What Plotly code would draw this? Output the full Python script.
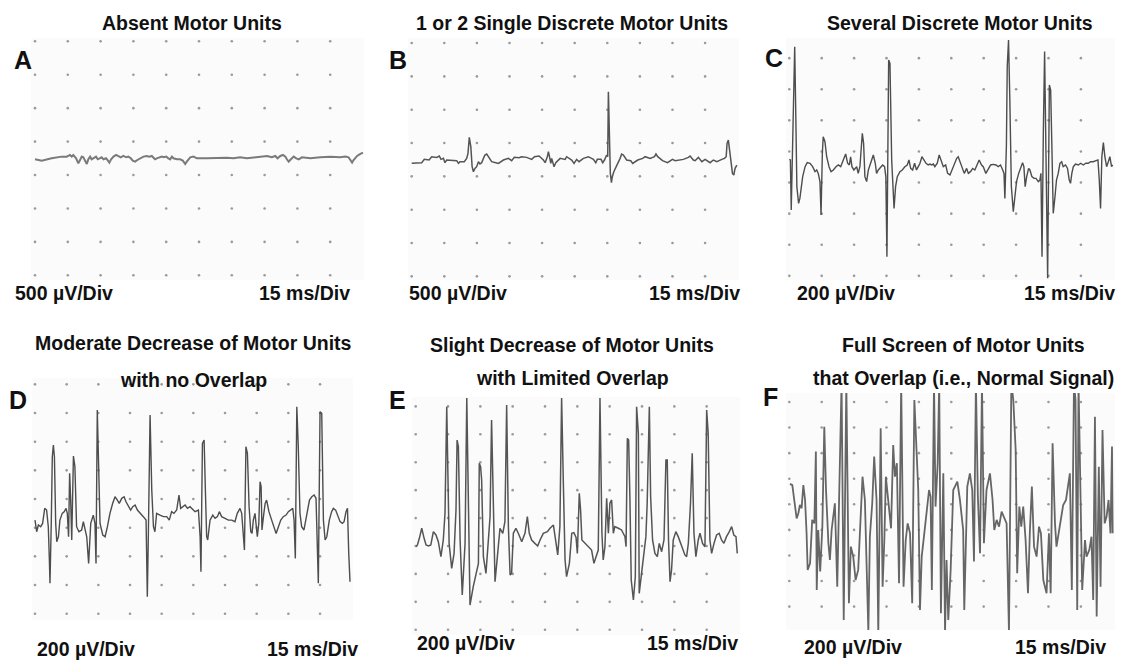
import plotly.graph_objects as go

# ---------------- DATA (time in ms, amplitude in µV) ----------------
a_t = [0, 3.1, 7.6, 12.2, 14.5, 16.0, 16.8, 17.5, 18.8, 19.8, 20.6, 21.4, 22.1, 22.9, 23.7, 24.4, 25.2, 25.9, 27.9, 28.7,
       30.5, 31.3, 32.5, 33.1, 34.0, 34.8, 35.9, 37.1, 38.2, 39.2, 40.4, 41.7, 42.7, 43.8, 44.7, 45.8, 46.8, 48.1, 49.6, 51.1,
       52.3, 53.4, 54.2, 54.9, 55.7, 56.9, 58.0, 58.8, 60.0, 61.0, 61.8, 62.6, 63.3, 64.9, 66.4, 67.6, 68.7, 69.4, 70.2, 71.0,
       72.5, 74.0, 78.6, 81.6, 87.7, 90.8, 93.8, 96.9, 100.0, 103.0, 106.1, 108.3, 109.9, 110.9, 112.2, 113.4, 114.5, 115.2,
       116.0, 116.7, 117.5, 118.3, 119.5, 120.6, 122.1, 125.9, 130.5, 135.1, 139.6, 141.9, 143.4, 144.2, 145.0, 145.7, 146.5,
       147.3, 148.8, 150.0]
a_v = [-15, -35, 0, 25, 25, 50, 25, 50, 0, -75, -25, 25, 15, -25, -85, -15, 25, -15, 25, -15,
       15, -15, 0, -25, -65, -15, 25, 50, 25, 15, 35, 15, 25, 0, -35, -50, -25, 0, 25, 35,
       25, 35, 15, -15, 0, 15, 25, 15, 25, 0, -15, 25, 0, -15, -15, -35, -85, -50, -15, 15,
       25, 0, 0, 5, 10, 0, 15, 0, 15, 25, 35, 15, 35, 0, 35, 50, 25, -15,
       -50, -25, 0, 25, 0, -15, 15, 0, 15, 25, 15, 25, 15, -25, -65, -25, 15,
       35, 65, 85]

b_t = [0, 2.3, 4.6, 5.8, 8.0, 9.2, 11.5, 12.7, 13.5, 14.6, 15.3, 16.1, 18.4, 20.7, 21.5, 22.2, 24.2, 25.3, 25.9, 26.5,
       27.2, 27.8, 28.4, 29.1, 29.9, 30.7, 31.4, 32.2, 33.0, 33.7, 34.5, 35.3, 36.8, 38.7, 39.9, 42.2, 44.5, 46.0, 47.2, 49.4,
       50.6, 52.9, 55.2, 56.5, 58.6, 60.6, 61.4, 62.4, 62.9, 63.4, 64.0, 64.4, 64.9, 65.5, 66.3, 68.3, 70.6, 71.3, 73.6, 74.7,
       75.9, 77.0, 79.0, 81.3, 83.6, 84.7, 85.4, 87.1, 87.9, 88.7, 89.7, 90.2, 90.5, 91.0, 91.4, 91.9, 92.3, 93.0, 93.9, 94.8,
       95.9, 96.6, 97.4, 98.9, 100.8, 101.7, 104.0, 106.3, 107.4, 109.7, 111.7, 112.4, 113.2, 115.4, 117.7, 120.0, 121.2, 123.0,
       125.0, 127.3, 128.1, 129.6, 130.4, 131.9, 133.5, 135.0, 137.3, 138.8, 140.4, 142.7, 143.9, 144.7, 145.1, 145.7, 146.3,
       147.0, 147.6, 148.2, 148.8, 149.6]
b_v = [-55, -55, -45, 5, -5, 45, 35, 55, 5, 20, -45, -5, -5, -15, -55, -30, -30, 20, 95, 335,
       195, -105, -180, -130, -105, -30, -65, -45, 20, 70, 85, 45, -30, -45, -55, -5, 20, -15, 35, 30,
       45, 35, 5, 45, 55, -5, -45, 45, 120, 45, -55, 20, -30, -105, -45, 20, 5, 45, -5, -55,
       5, -30, 20, 45, 5, -45, 5, 5, -45, -5, 70, 45, 1020, 245, -205, -345, -255, -180, -105, -55,
       20, 85, 70, -5, -15, -55, -5, 20, 45, 20, 45, 85, 45, -15, -45, 5, -15, -5,
       5, 35, 55, -5, -15, 35, -30, 5, -45, -5, -30, 5, 20, 45, 245, 295, 145,
       -80, -205, -230, -130, -80]

c_t = [0, 0.5, 0.9, 1.5, 2.2, 2.5, 2.9, 3.5, 4.3, 4.9, 6.2, 7.3, 8.3, 9.6, 10.8, 11.9, 12.7, 13.4, 14.2, 14.7,
       15.3, 15.7, 16.5, 17.3, 18.4, 19.3, 20.4, 21.6, 22.7, 23.8, 25.0, 26.1, 27.0, 27.8, 28.4, 29.0, 29.9, 31.2, 31.9, 32.7,
       33.8, 34.4, 35.0, 35.8, 36.6, 37.6, 38.9, 39.8, 40.4, 41.2, 42.3, 43.2, 44.1, 44.7, 45.2, 46.0, 46.6, 47.4, 48.5, 49.2,
       50.0, 51.2, 52.3, 53.5, 54.6, 55.4, 56.2, 57.1, 58.0, 58.9, 59.7, 60.5, 61.4, 62.3, 63.3, 64.3, 65.1, 65.9, 66.7, 67.4,
       68.5, 69.4, 70.5, 71.3, 72.4, 73.3, 74.4, 75.5, 76.4, 77.5, 78.2, 79.0, 80.1, 81.0, 82.1, 82.9, 83.9, 84.9, 85.9, 87.0,
       87.9, 89.0, 89.8, 91.0, 92.1, 93.2, 94.4, 95.7, 96.7, 97.8, 98.8, 99.4, 99.8, 100.5, 100.9, 101.5, 102.1, 102.8, 103.7, 104.5,
       105.2, 106.2, 107.1, 108.0, 108.6, 109.2, 109.9, 110.8, 111.4, 112.3, 113.3, 114.2, 115.3, 116.0, 116.5, 117.0, 117.6, 118.2,
       118.8, 119.6, 120.4, 121.0, 121.6, 122.2, 123.0, 123.7, 124.5, 125.3, 126.1, 126.8, 127.9, 128.8, 129.6, 130.2, 130.8, 131.5,
       132.5, 133.8, 134.9, 136.1, 137.3, 138.4, 139.5, 140.7, 142.0, 142.9, 143.5, 144.1, 144.7, 145.4, 146.1, 146.9, 147.7, 148.4,
       149.2, 149.7]
c_v = [49, 45, -277, 174, 753, 774, 431, -126, -234, -202, -62, 2, 28, 24, 2, -30, -19, -41, -94, -309,
       88, 195, 163, 66, 2, -30, -19, 2, 13, 2, 45, 84, 24, 13, 66, 2, -19, 2, -41, 2,
       217, 152, -62, -94, -19, 24, 77, 24, -41, -19, 2, 13, 2, -62, -577, 688, 667, 45, -266, -126,
       -62, -30, -19, 2, 13, 45, -9, -19, 24, -19, 2, 24, 66, 45, 24, 13, 19, 13, 19, 2,
       24, 77, 34, 2, 13, -41, -51, -9, 24, 56, 66, 34, -19, -41, -9, -41, -30, -9, -19, 24,
       45, 13, 2, -41, -9, 13, 17, 13, 2, 13, -19, -41, -202, 131, 645, 817, 431, -126, -287, -191,
       -94, -41, 2, 28, 2, -126, -62, -9, -19, -62, -73, -73, -94, -84, -41, -577, 217, 742,
       109, -716, 527, 495, 109, -298, -191, -84, -41, 24, 34, 2, 13, -9, -84, -105, -41, 2,
       19, 13, 24, 13, 24, 24, 34, 34, 41, 45, -84, -266, 66, 157, 66, 2, 34, 66,
       2, 13]

d_t = [0, 0.4, 0.8, 1.6, 2.7, 3.6, 4.6, 5.5, 6.3, 6.8, 7.1, 7.7, 8.2, 8.7, 9.2, 9.8, 10.3, 11.1, 11.8, 12.9,
       13.9, 14.7, 15.3, 15.9, 16.4, 16.9, 17.4, 18.2, 18.9, 19.7, 20.8, 22.1, 22.9, 24.5, 25.4, 26.4, 27.6, 28.4, 28.9, 29.5,
       30.2, 30.8, 32.1, 33.2, 34.3, 35.5, 36.8, 37.9, 39.0, 39.9, 41.1, 42.2, 43.1, 44.2, 45.3, 46.3, 47.4, 48.5, 49.7, 51.3,
       52.6, 53.2, 53.7, 54.5, 55.3, 56.1, 56.8, 57.6, 59.2, 60.8, 62.4, 63.6, 64.7, 65.8, 67.1, 68.2, 69.0, 69.9, 71.1, 72.2,
       73.4, 75.8, 77.4, 78.2, 78.6, 79.3, 80.1, 80.7, 81.3, 81.8, 82.9, 84.2, 85.3, 86.4, 87.3, 88.4, 90.0, 91.6, 93.2, 94.7,
       95.8, 97.1, 97.9, 98.7, 99.2, 99.9, 100.6, 101.4, 102.2, 102.8, 103.4, 104.2, 104.7, 105.3, 106.0, 106.6, 107.1, 107.5,
       108.2, 109.0, 109.7, 110.8, 112.1, 113.2, 114.2, 115.3, 116.4, 117.6, 118.9, 120.0, 121.1, 122.1, 122.7, 123.3, 124.0,
       124.7, 125.5, 126.3, 127.4, 128.7, 130.0, 131.1, 132.2, 133.1, 133.7, 134.2, 135.0, 135.8, 136.6, 137.4, 138.2, 139.4,
       140.5, 141.3, 142.4, 143.7, 144.5, 145.6, 146.4, 147.3, 148.0, 148.6, 149.2]
d_v = [53, -5, -28, 19, 7, 30, 135, 123, 7, -226, -388, 30, 495, 577, 495, 30, -98, -63, 53, 100,
       112, 135, 100, -63, 379, 193, -86, 500, 426, 7, -28, -16, 42, -63, -249, 30, 88, 30, -249, 821,
       333, 30, -51, -63, 7, 100, 170, 216, 193, 170, 205, 216, 181, 147, 123, 147, 158, 123, 100, 77,
       53, -481, -40, 786, 263, 7, -28, 100, 88, 77, 77, 53, 112, 100, 123, 228, 135, 147, 158, 135,
       147, 112, 123, -63, -307, 588, 612, 263, -63, -86, 53, 88, 65, 77, 112, 77, 65, 53, 53, 42,
       100, 135, 100, -63, -156, 565, 519, 147, -28, -40, 53, 100, 7, -63, 30, 321, 286, -16,
       77, 170, 193, 112, 53, -5, -40, 7, 53, 77, 88, 112, 123, 135, 53, -214, 844,
       565, 100, 7, -16, 100, 193, 216, 228, 205, -179, -388, 809, 798, 53, -86, -63, 53,
       112, 135, 123, 77, 42, 30, 42, 112, 135, -179, -377]

e_t = [0.2, 0.8, 1.7, 2.8, 3.9, 4.8, 5.9, 7.0, 8.2, 9.4, 10.5, 11.7, 12.8, 13.6, 14.4, 15.5, 16.7, 17.8, 18.7, 19.2,
       19.8, 20.6, 21.6, 22.9, 23.7, 25.2, 26.7, 28.0, 29.1, 29.5, 30.1, 30.6, 31.4, 32.6, 33.7, 34.5, 35.2, 36.0, 36.8, 37.9,
       39.1, 40.4, 41.4, 42.2, 43.0, 43.8, 44.5, 45.3, 46.5, 47.6, 49.2, 50.7, 51.8, 52.7, 53.8, 55.3, 56.6, 57.7, 59.2, 61.1,
       62.3, 63.9, 64.9, 65.9, 66.9, 67.7, 68.5, 69.3, 70.0, 71.3, 72.4, 73.4, 74.4, 75.0, 75.9, 76.5, 77.1, 78.5, 80.1, 81.6,
       82.7, 83.6, 84.7, 85.5, 86.4, 87.0, 87.8, 88.6, 89.4, 90.1, 90.9, 91.7, 92.4, 94.0, 95.5, 97.1, 97.6, 98.2, 98.8, 99.4,
       100.0, 101.0, 101.9, 102.5, 103.3, 103.7, 104.8, 105.6, 106.8, 107.4, 108.4, 109.0, 109.9, 111.0, 112.1, 113.0, 114.1,
       115.2, 116.1, 116.7, 117.3, 118.0, 118.7, 119.5, 120.7, 121.8, 123.4, 124.9, 125.7, 126.5, 127.5, 128.3, 129.1, 130.0,
       131.1, 131.9, 133.1, 134.2, 135.0, 135.7, 136.5, 137.3, 138.4, 139.6, 140.8, 141.9, 143.0, 144.2, 145.5, 146.6, 147.6,
       148.6, 149.2]
e_v = [-5, 7, 55, 127, 55, 7, 0, 7, 103, 79, 31, -76, 43, 234, 998, 19, -160, -53, 258, 759,
       712, 43, -351, 19, 1060, -423, -291, -196, -124, 592, 568, 473, -76, -196, 43, 210, 903, 210, -256, -76,
       127, 91, 174, 1010, 139, -208, -196, 91, 127, 91, 31, 91, 210, 91, 43, 19, 0, 43, 91, 103,
       127, 150, 43, -64, 139, 1060, 449, -100, -220, -124, 91, 96, 62, -53, 377, 258, 43, 19, -5, -29,
       -124, -76, -29, 1060, 91, -100, -5, 341, 91, 306, 330, 91, 139, 127, 115, 67, -5, 771, 759, 330,
       -244, -387, -220, 998, 807, -339, -196, -76, 67, 306, 998, 353, 43, -53, -76, 19, -41,
       43, 616, 616, 43, -256, -172, 43, 103, 67, -5, -64, -76, 19, 306, 664, 91, -76,
       43, 91, 19, -5, 974, 807, 43, -53, 19, 79, 91, 43, 19, 67, 103, 139, 79,
       67, -53]

f_t = [0.3, 1.4, 3.4, 4.2, 4.9, 5.7, 6.5, 7.3, 8.0, 8.5, 9.6, 10.6, 11.6, 12.3, 12.7, 13.4, 14.3, 15.3, 16.2, 17.0,
       18.1, 18.8, 19.6, 21.1, 22.2, 23.1, 24.2, 25.2, 26.4, 27.6, 28.5, 29.6, 30.7, 31.9, 33.2, 33.9, 35.0, 36.6, 37.3, 38.4,
       39.3, 40.4, 41.2, 42.3, 43.2, 44.0, 44.7, 45.8, 47.1, 48.1, 48.9, 49.8, 50.8, 51.8, 52.9, 53.9, 54.8, 55.9, 56.9, 57.9,
       58.9, 59.7, 60.5, 61.3, 62.5, 63.6, 64.7, 65.4, 66.0, 67.0, 67.7, 68.7, 69.4, 70.2, 71.3, 72.1, 72.8, 73.6, 74.7, 75.9,
       77.8, 79.0, 80.5, 81.0, 81.8, 82.4, 83.6, 84.7, 85.5, 86.4, 87.3, 88.3, 89.2, 90.1, 91.3, 92.9, 94.1, 94.9, 96.0, 97.1,
       98.3, 99.5, 100.6, 101.7, 102.8, 103.7, 104.8, 105.5, 106.5, 107.4, 108.3, 109.4, 110.5, 111.4, 112.3, 113.3, 114.5,
       115.6, 116.5, 117.6, 119.1, 120.2, 121.0, 121.9, 123.0, 123.7, 125.3, 126.8, 128.1, 128.8, 129.9, 130.8, 131.8, 132.5,
       133.3, 133.9, 134.9, 135.6, 136.9, 137.6, 138.9, 139.9, 140.7, 141.5, 142.3, 143.3, 144.1, 145.0, 146.0, 146.9, 147.8,
       148.7, 149.4, 149.7]
f_v = [160, 150, -110, -70, -5, -31, 151, 34, -227, -513, -461, -122, -149, 412, -670, -201, -526, -175, 607, 112,
       -305, -435, -201, 8, -644, -18, 950, -904, 950, -774, -331, -409, -592, -513, -44, 216, 34, -1000, -253, 8,
       373, 34, -1000, 594, -644, -279, 216, 34, -188, 464, 216, 321, -618, 950, -644, -279, -149, -227, -774, 816,
       373, 112, -826, -409, -227, -44, 112, 60, -670, 950, -18, 321, 950, -852, 242, -1000, -435, -904, -513, 112,
       177, 34, -201, -826, -201, 138, 242, 112, -448, 950, 60, -383, 950, -305, 112, 242, 34, -201, -122, -175,
       -57, -109, -149, -1000, 950, 816, 425, -539, -18, -175, -18, -279, -696, -201, 138, -331, -409,
       -175, -227, -592, -696, -227, -696, 477, -149, -331, -175, -5, 34, 112, 242, -670, 950, 816,
       -826, 950, -18, -670, -279, -409, -357, -253, -748, 685, -878, 294, -644, 581, -149, -96, 34,
       -227, 451, -227]

letters = ["A", "B", "C", "D", "E", "F"]
titles_line1 = ["Absent Motor Units",
                "1 or 2 Single Discrete Motor Units",
                "Several Discrete Motor Units",
                "Moderate Decrease of Motor Units",
                "Slight Decrease of Motor Units",
                "Full Screen of Motor Units"]
titles_line2 = ["", "", "", "with no Overlap", "with Limited Overlap", "that Overlap (i.e., Normal Signal)"]
amp_scales = ["500 µV/Div", "500 µV/Div", "200 µV/Div", "200 µV/Div", "200 µV/Div", "200 µV/Div"]
time_scales = ["15 ms/Div"] * 6
ms_per_div = 15
grid_rows = [[-1750, -1250, -750, -250, 250, 750, 1250, 1750],
             [-1750, -1250, -750, -250, 250, 750, 1250, 1750],
             [-700, -500, -300, -100, 100, 300, 500, 700],
             [-600, -400, -200, 0, 200, 400, 600, 800, 1000],
             [-600, -400, -200, 0, 200, 400, 600, 800, 1000],
             [-800, -600, -400, -200, 0, 200, 400, 600, 800]]
series_t = [a_t, b_t, c_t, d_t, e_t, f_t]
series_v = [a_v, b_v, c_v, d_v, e_v, f_v]

# ---------------- LAYOUT GEOMETRY (pixels of a 1123x660 page) ----------------
W, H = 1123, 660
# x at 0 ms, x at 150 ms, y at 0 µV, px per µV, box (l, r, t, b)
geom = [
    dict(x0=35.0, x1=363.0, y0=158.3, k=33.43 / 500, box=(31, 364, 38, 280)),
    dict(x0=411.7, x1=737.7, y0=159.7, k=33.33 / 500, box=(408, 739, 38, 280)),
    dict(x0=789.3, x1=1113.3, y0=167.0, k=31.1 / 200, box=(786, 1115, 38, 280)),
    dict(x0=35.0, x1=351.7, y0=527.7, k=28.67 / 200, box=(32, 353, 378, 620)),
    dict(x0=415.7, x1=739.0, y0=546.0, k=27.92 / 200, box=(412, 740, 397, 635)),
    dict(x0=789.3, x1=1113.3, y0=504.3, k=25.58 / 200, box=(786, 1115, 393, 630)),
]
# title center x, title line y's, letter (x,y), scale-label left x, right x, y
text_pos = [
    dict(tx=192, ty1=23, ty2=None, lx=23, ly=60, sl=13, sr=352, sy=293),
    dict(tx=572, ty1=23, ty2=None, lx=398, ly=60, sl=407, sr=742, sy=293),
    dict(tx=960, ty1=23, ty2=None, lx=774, ly=58, sl=795, sr=1117, sy=293),
    dict(tx=193, ty1=343, ty2=380, lx=18, ly=400, sl=35, sr=360, sy=649),
    dict(tx=572, ty1=345, ty2=378, lx=397, ly=400, sl=415, sr=740, sy=643),
    dict(tx=963, ty1=345, ty2=378, lx=770, ly=397, sl=802, sr=1108, sy=647),
]
line_styles = [dict(color="#7a7a7a", width=2.0), dict(color="#555555", width=1.5),
               dict(color="#4d4d4d", width=1.4), dict(color="#4d4d4d", width=1.4),
               dict(color="#555555", width=1.5), dict(color="#666666", width=1.8)]

FONT = "Liberation Sans, Arial, sans-serif"
TXT = 19.5
fig = go.Figure()
layout = dict(width=W, height=H, margin=dict(l=0, r=0, t=0, b=0),
              paper_bgcolor="white", plot_bgcolor="#fbfbfb", showlegend=False,
              font=dict(family=FONT, color="#111"))
annotations = []


def note(text, px, py, anchor, size):
    annotations.append(dict(text="<b>" + text + "</b>", x=px / W, y=1 - py / H,
                            xref="paper", yref="paper", xanchor=anchor, yanchor="middle",
                            showarrow=False, font=dict(size=size, family=FONT, color="#111")))


for i in range(6):
    g = geom[i]
    l, r, t, b = g["box"]
    span = 10 * ms_per_div
    xr = [(l - g["x0"]) / (g["x1"] - g["x0"]) * span, (r - g["x0"]) / (g["x1"] - g["x0"]) * span]
    yr = [(g["y0"] - b) / g["k"], (g["y0"] - t) / g["k"]]
    sfx = "" if i == 0 else str(i + 1)
    layout["xaxis" + sfx] = dict(domain=[l / W, r / W], range=xr, visible=False, fixedrange=True,
                                 anchor="y" + sfx)
    layout["yaxis" + sfx] = dict(domain=[1 - b / H, 1 - t / H], range=yr, visible=False, fixedrange=True,
                                 anchor="x" + sfx)
    gx, gy = [], []
    for c in range(10):
        for rv in grid_rows[i]:
            gx.append(c * ms_per_div)
            gy.append(rv)
    fig.add_trace(go.Scatter(x=gx, y=gy, mode="markers", xaxis="x" + sfx, yaxis="y" + sfx,
                             marker=dict(size=2.6, color="#9a9a9a"), hoverinfo="skip"))
    fig.add_trace(go.Scatter(x=series_t[i], y=series_v[i], mode="lines", xaxis="x" + sfx, yaxis="y" + sfx,
                             line=line_styles[i]))
    p = text_pos[i]
    note(titles_line1[i], p["tx"], p["ty1"], "center", TXT)
    if titles_line2[i]:
        note(titles_line2[i], p["tx"], p["ty2"], "center", TXT)
    note(letters[i], p["lx"], p["ly"], "center", 25)
    note(amp_scales[i], p["sl"], p["sy"], "left", TXT)
    note(time_scales[i], p["sr"], p["sy"], "right", TXT)

layout["annotations"] = annotations
fig.update_layout(**layout)
fig.write_html("out.html", config={"displayModeBar": False},
               post_script="document.body.style.margin='0';document.body.style.overflow='hidden';")
